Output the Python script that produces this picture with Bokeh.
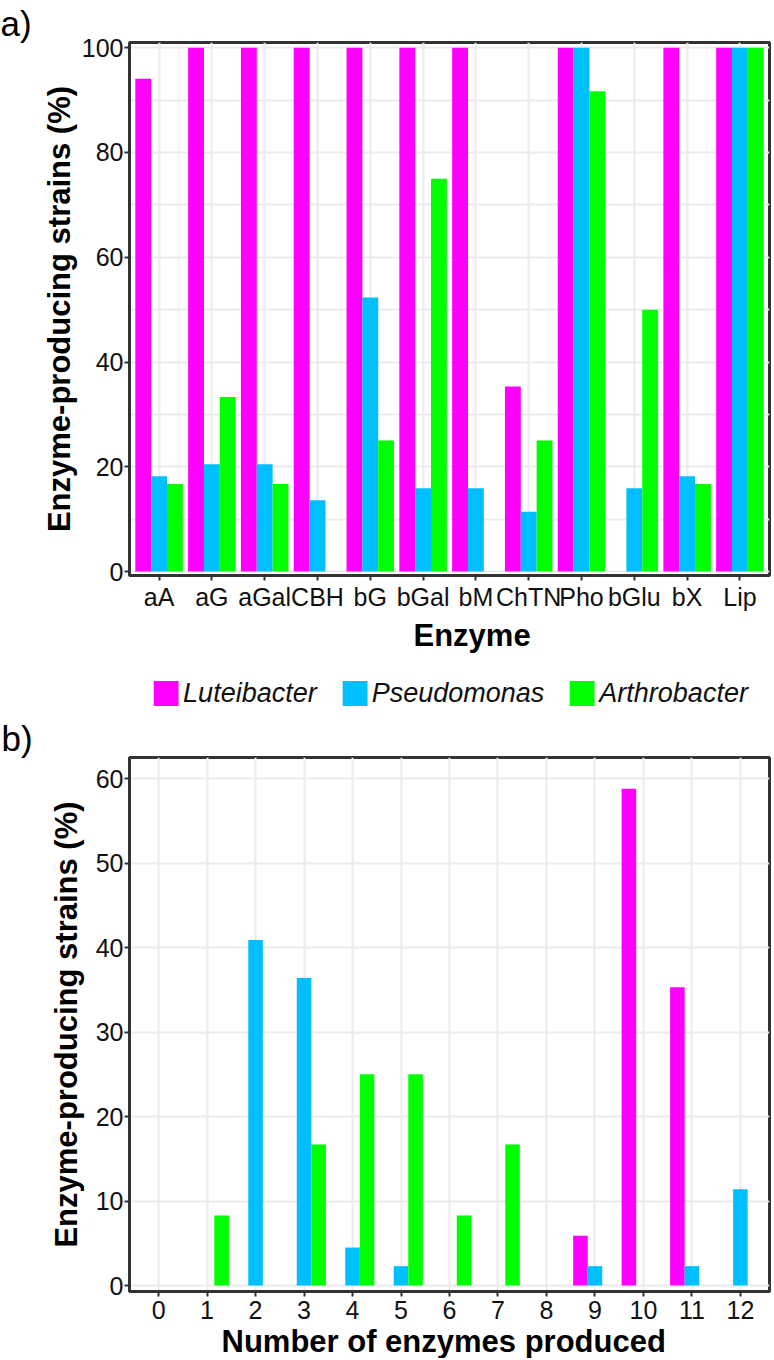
from bokeh.plotting import figure
from bokeh.models import (FactorRange, Range1d, ColumnDataSource, Legend, LegendItem,
                          Title, FixedTicker)
from bokeh.transform import dodge
from bokeh.layouts import column
from bokeh.embed import file_html
from bokeh.resources import INLINE

# ---------------- data ----------------
enzymes = ["aA", "aG", "aGal", "CBH", "bG", "bGal", "bM", "ChTN", "Pho", "bGlu", "bX", "Lip"]
luteibacter_a = [94.1, 100, 100, 100, 100, 100, 100, 35.3, 100, 0, 100, 100]
pseudomonas_a = [18.2, 20.5, 20.5, 13.6, 52.3, 15.9, 15.9, 11.4, 100, 15.9, 18.2, 100]
arthrobacter_a = [16.7, 33.3, 16.7, 0, 25, 75, 0, 25, 91.7, 50, 16.7, 100]

n_enzymes = [0, 1, 2, 3, 4, 5, 6, 7, 8, 9, 10, 11, 12]
luteibacter_b = [0, 0, 0, 0, 0, 0, 0, 0, 0, 5.9, 58.8, 35.3, 0]
pseudomonas_b = [0, 0, 40.9, 36.4, 4.5, 2.3, 0, 0, 0, 2.3, 0, 2.3, 11.4]
arthrobacter_b = [0, 8.3, 0, 16.7, 25, 25, 8.3, 16.7, 0, 0, 0, 0, 0]

genera = ["Luteibacter", "Pseudomonas", "Arthrobacter"]
colors = ["#FF00FF", "#00BFFF", "#00FF00"]
offsets = [-0.3, 0.0, 0.3]

FONT = "Liberation Sans"
W = 774
GRID = "#EBEBEB"
DARK = "#333333"
FL = 129  # frame left


def style(p):
    p.outline_line_color = DARK
    p.outline_line_width = 3
    p.background_fill_color = "white"
    p.border_fill_color = "white"
    for ax in (p.xaxis[0], p.yaxis[0]):
        ax.axis_line_color = DARK
        ax.axis_line_width = 3
        ax.major_tick_line_color = DARK
        ax.major_tick_line_width = 2
        ax.major_tick_out = 5
        ax.major_tick_in = 0
        ax.minor_tick_line_color = None
        ax.major_label_text_font = FONT
        ax.major_label_text_font_size = "25px"
        ax.major_label_text_color = "#111111"
        ax.axis_label_text_font = FONT
        ax.axis_label_text_font_size = "31px"
        ax.axis_label_text_font_style = "bold"
        ax.axis_label_text_color = "#000000"
    p.yaxis[0].major_label_standoff = 1
    p.xaxis[0].major_label_standoff = 2
    p.xgrid.grid_line_color = GRID
    p.xgrid.grid_line_width = 2
    p.ygrid.grid_line_color = GRID
    p.ygrid.grid_line_width = 2


def panel_title(text, left):
    return Title(text=text, align="left", offset=-left, text_font=FONT, text_color="#000000",
                 text_font_size="35px", text_font_style="normal", standoff=0)


# ---------------- panel a ----------------
src_a = ColumnDataSource(dict(x=enzymes, L=luteibacter_a, P=pseudomonas_a, A=arthrobacter_a))
p1 = figure(width=W, height=662, x_range=FactorRange(*enzymes, range_padding=0.01),
            y_range=Range1d(-0.76, 101), output_backend="svg", toolbar_location=None,
            min_border_left=FL, min_border_right=2, min_border_top=42, min_border_bottom=87)
p1.title = panel_title("a)", FL)
for key, col, off in zip(["L", "P", "A"], colors, offsets):
    p1.vbar(x=dodge("x", off, range=p1.x_range), top=key, width=0.3, source=src_a,
            fill_color=col, line_color=None)
style(p1)
p1.yaxis[0].ticker = FixedTicker(ticks=[0, 20, 40, 60, 80, 100], minor_ticks=[10, 30, 50, 70, 90])
p1.ygrid.minor_grid_line_color = GRID
p1.ygrid.minor_grid_line_width = 2
p1.yaxis[0].axis_label = "Enzyme-producing strains (%)"
p1.yaxis[0].axis_label_standoff = 2
p1.add_layout(Title(text="Enzyme", align="left", offset=284, text_font=FONT, text_color="#000000",
                    text_font_size="31px", text_font_style="bold", standoff=4), "below")

# ---------------- legend strip (its bars lie outside the visible y range) ----------------
pl = figure(width=W, height=54, x_range=FactorRange(*enzymes), y_range=Range1d(500, 501),
            x_axis_type=None, y_axis_type=None, output_backend="svg", toolbar_location=None,
            min_border_left=118, min_border_right=0, min_border_top=7, min_border_bottom=0)
pl.outline_line_color = None
pl.xgrid.visible = False
pl.ygrid.visible = False
leg_renderers = []
for key, col in zip(["L", "P", "A"], colors):
    leg_renderers.append(pl.vbar(x="x", top=key, width=0.3, source=src_a,
                                 fill_color=col, line_color=None))
legend = Legend(items=[LegendItem(label=g, renderers=[r]) for g, r in zip(genera, leg_renderers)],
                orientation="horizontal", location="center",
                glyph_width=31, glyph_height=31, label_height=31, label_standoff=2,
                spacing=22, padding=0, margin=0,
                label_text_font=FONT, label_text_font_size="27px",
                label_text_font_style="italic", label_text_color="#111111",
                border_line_color=None, background_fill_alpha=0)
pl.add_layout(legend, "center")

# ---------------- panel b ----------------
src_b = ColumnDataSource(dict(x=n_enzymes, L=luteibacter_b, P=pseudomonas_b, A=arthrobacter_b))
p2 = figure(width=W, height=642, x_range=Range1d(-0.6, 12.6), y_range=Range1d(-0.7, 62.5),
            output_backend="svg", toolbar_location=None,
            min_border_left=FL - 1, min_border_right=5, min_border_top=40, min_border_bottom=66)
p2.title = panel_title("b)", FL - 1)
for key, col, off in zip(["L", "P", "A"], colors, offsets):
    p2.vbar(x=dodge("x", off), top=key, width=0.3, source=src_b, fill_color=col, line_color=None)
style(p2)
p2.xaxis[0].ticker = FixedTicker(ticks=n_enzymes)
p2.yaxis[0].ticker = FixedTicker(ticks=[0, 10, 20, 30, 40, 50, 60])
p2.yaxis[0].axis_label = "Enzyme-producing strains (%)"
p2.yaxis[0].axis_label_standoff = 9
p2.xaxis[0].major_label_standoff = 4
p2.add_layout(Title(text="Number of enzymes produced", align="left", offset=92, text_font=FONT,
                    text_color="#000000", text_font_size="31px", text_font_style="bold",
                    standoff=0), "below")

layout = column(p1, pl, p2, spacing=0)
open("out.html", "w").write(file_html(layout, INLINE))
